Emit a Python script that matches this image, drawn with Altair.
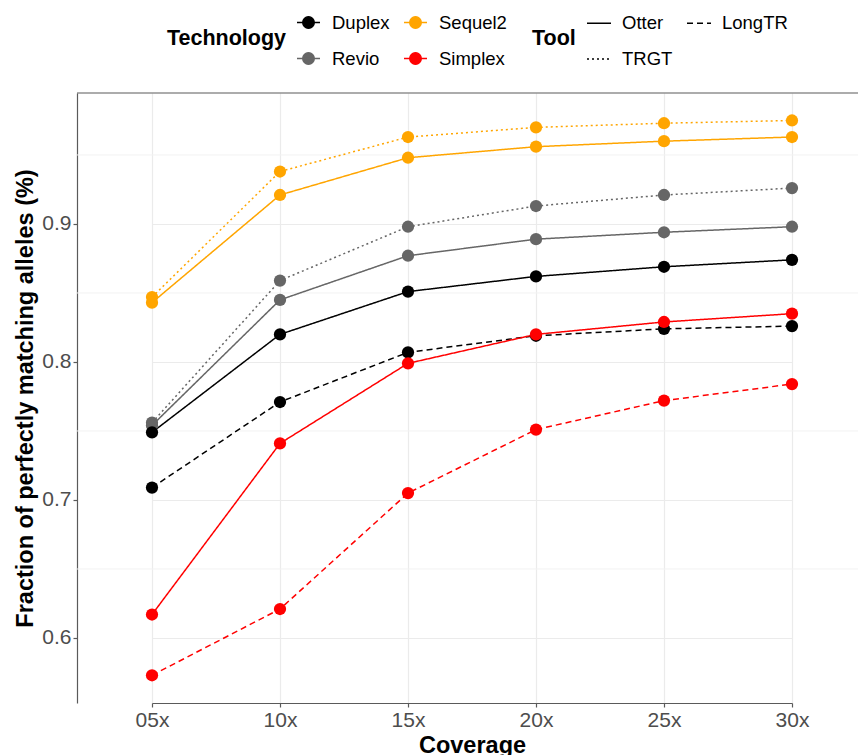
import altair as alt
import pandas as pd

coverage = ["05x", "10x", "15x", "20x", "25x", "30x"]

technologies = ["Duplex", "Revio", "Sequel2", "Simplex"]
tech_colors = ["#000000", "#666666", "#FFA500", "#FF0000"]
tools = ["Otter", "TRGT", "LongTR"]
tool_dashes = [[1, 0], [2, 3], [6, 4]]

# (technology, tool) -> fraction of perfectly matching alleles per coverage
series_tech = ["Sequel2", "Sequel2", "Revio", "Revio", "Duplex", "Duplex", "Simplex", "Simplex"]
series_tool = ["TRGT", "Otter", "TRGT", "Otter", "Otter", "LongTR", "Otter", "LongTR"]
sequel2_trgt = [0.847, 0.938, 0.963, 0.970, 0.973, 0.975]
sequel2_otter = [0.843, 0.921, 0.948, 0.956, 0.960, 0.963]
revio_trgt = [0.756, 0.859, 0.898, 0.913, 0.921, 0.926]
revio_otter = [0.754, 0.845, 0.877, 0.889, 0.894, 0.898]
duplex_otter = [0.749, 0.820, 0.851, 0.862, 0.869, 0.874]
duplex_longtr = [0.709, 0.771, 0.807, 0.819, 0.824, 0.826]
simplex_otter = [0.617, 0.741, 0.799, 0.820, 0.829, 0.835]
simplex_longtr = [0.573, 0.621, 0.705, 0.751, 0.772, 0.784]
series_values = [sequel2_trgt, sequel2_otter, revio_trgt, revio_otter,
                 duplex_otter, duplex_longtr, simplex_otter, simplex_longtr]

y_major = [0.6, 0.7, 0.8, 0.9]
y_minor = [0.65, 0.75, 0.85, 0.95]
Y_MIN, Y_MAX = 0.5529, 0.9949

rows = []
for tech, tool, vals in zip(series_tech, series_tool, series_values):
    for cov, v in zip(coverage, vals):
        rows.append({"Coverage": cov, "Technology": tech, "Tool": tool,
                     "Value": v, "Series": f"{tech} {tool}"})
df = pd.DataFrame(rows)

FONT = "Liberation Sans"
FRAME = "#5A5A5A"
PLOT_W = 781
PLOT_H = 610
Y_TITLE = "Fraction of perfectly matching alleles (%)"

# categories sit 128 px apart; the panel runs on to the right edge
x_enc = alt.X("Coverage:N", sort=coverage,
              scale=alt.Scale(type="point", domain=coverage, range=[75, 715], padding=0),
              axis=alt.Axis(title="Coverage", labelAngle=0, grid=True,
                            gridColor="#EBEBEB", gridWidth=1.2))
y_scale = alt.Scale(domain=[Y_MIN, Y_MAX], nice=False, zero=False)
y_axis = alt.Axis(title=Y_TITLE, values=y_major, format=".1f", grid=True,
                  gridColor="#EBEBEB", gridWidth=1.2)
y_enc = alt.Y("Value:Q", scale=y_scale, axis=y_axis)

# minor horizontal grid lines between the labelled ticks
minor = alt.Chart(pd.DataFrame({"m": y_minor})).mark_rule(
    color="#F2F2F2", strokeWidth=1
).encode(y=alt.Y("m:Q", scale=y_scale, axis=y_axis))

# upper edge of the panel frame (left and bottom come from the axis domains)
top_edge = alt.Chart(pd.DataFrame({"m": [Y_MAX]})).mark_rule(
    color=FRAME, strokeWidth=1.2
).encode(y=alt.Y("m:Q", scale=y_scale, axis=y_axis))

# legend symbol: short line through a dot
dot_line = "M-1,0L1,0M0.5,0A0.5,0.5,0,1,1,-0.5,0A0.5,0.5,0,1,1,0.5,0Z"

color_enc = alt.Color(
    "Technology:N",
    scale=alt.Scale(domain=technologies, range=tech_colors),
    legend=alt.Legend(
        orient="none", legendX=90, legendY=-83, columns=2,
        title="Technology", titleOrient="left", titleAnchor="middle",
        titleBaseline="middle", titleFontSize=21.5, titleFontWeight="bold",
        titleColor="#000000", titlePadding=9,
        labelFontSize=18.5, labelColor="#000000", labelOffset=11,
        symbolType=dot_line, symbolSize=529, symbolStrokeWidth=1.5,
        columnPadding=11, rowPadding=14,
    ),
)

lines = alt.Chart(df).mark_line(strokeWidth=1.5).encode(
    x=x_enc, y=y_enc,
    color=color_enc,
    strokeDash=alt.StrokeDash(
        "Tool:N",
        scale=alt.Scale(domain=tools, range=tool_dashes),
        legend=alt.Legend(
            orient="none", legendX=455, legendY=-83, columns=2,
            title="Tool", titleOrient="left", titleAnchor="middle",
            titleBaseline="middle", titleFontSize=21.5, titleFontWeight="bold",
            titleColor="#000000", titlePadding=10,
            labelFontSize=18.5, labelColor="#000000", labelOffset=10,
            symbolType="stroke", symbolSize=576, symbolStrokeWidth=1.3,
            symbolStrokeColor="#000000",
            columnPadding=11, rowPadding=13,
        ),
    ),
    detail="Series:N",
)

points = alt.Chart(df).mark_circle(size=150, opacity=1).encode(
    x=x_enc, y=y_enc,
    color=color_enc,
    detail="Series:N",
)

chart = alt.layer(minor, lines, points, top_edge).properties(
    width=PLOT_W, height=PLOT_H,
    background="white",
    autosize=alt.AutoSizeParams(type="none"),
    padding={"left": 77, "top": 93, "right": 0, "bottom": 52},
).configure_view(
    stroke=None
).configure_axis(
    domain=True, domainColor=FRAME, domainWidth=1.2,
    labelFont=FONT, titleFont=FONT,
    labelFontSize=21, labelColor="#4D4D4D",
    titleFontSize=23.5, titleFontWeight="bold", titleColor="#000000",
    tickColor=FRAME, tickSize=4, tickWidth=1.2,
    labelPadding=2,
).configure_axisY(
    titlePadding=4,
).configure_axisX(
    titlePadding=3,
).configure_legend(
    labelFont=FONT, titleFont=FONT,
)

chart.save("out.html", embed_options={"renderer": "svg", "actions": False})
